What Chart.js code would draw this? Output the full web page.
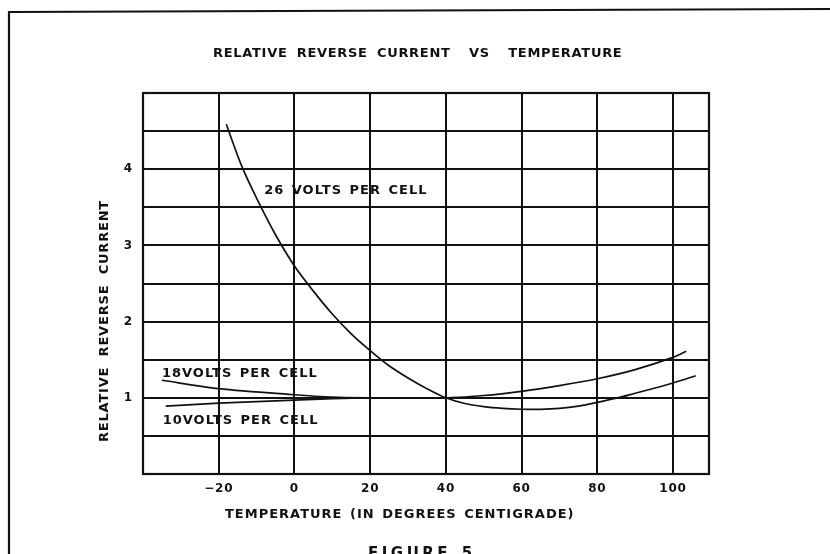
<!DOCTYPE html>
<html>
<head>
<meta charset="utf-8">
<title>Relative Reverse Current vs Temperature</title>
<script src="https://cdn.jsdelivr.net/npm/chart.js@4.4.0/dist/chart.umd.min.js"></script>
<style>
	html, body { margin: 0; padding: 0; background: #fff; }
	canvas { display: block; }
</style>
</head>
<body>
<canvas id="chart" width="830" height="554"></canvas>
<script>
'use strict';

// Relative reverse current against cell temperature (deg C), one pair per curve
var temps26 = [-18, -14, -10, -5, 0, 5, 10, 15, 20, 25, 30, 35, 40, 45, 50, 55, 60, 65, 70, 75, 80, 85, 90, 95, 100, 106];
var current26 = [4.59, 4.05, 3.62, 3.14, 2.73, 2.4, 2.1, 1.84, 1.62, 1.42, 1.26, 1.12, 1.0, 0.925, 0.885, 0.862, 0.85, 0.848, 0.86, 0.89, 0.94, 0.995, 1.06, 1.125, 1.195, 1.29];

var temps18 = [-35, -20, 0, 10, 20, 30, 40, 50, 60, 70, 80, 90, 100, 103.5];
var current18 = [1.23, 1.12, 1.04, 1.01, 1.0, 0.997, 1.0, 1.03, 1.085, 1.16, 1.25, 1.37, 1.53, 1.61];

var temps10 = [-34, -20, 0, 10, 20, 40, 50];
var current10 = [0.89, 0.93, 0.97, 0.99, 1.0, 1.0, 1.0];

// Grid lines and which of them carry a label
var xGrid = [-40, -20, 0, 20, 40, 60, 80, 100];
var xLabels = [-20, 0, 20, 40, 60, 80, 100];
var yGrid = [0, 0.5, 1, 1.5, 2, 2.5, 3, 3.5, 4, 4.5, 5];
var yLabels = [1, 2, 3, 4];

var curveNames = ['26 VOLTS PER CELL', '18VOLTS PER CELL', '10VOLTS PER CELL'];


var INK = '#111',
	LETTERING = '"DejaVu Sans", sans-serif';

function pairs(xs, ys) {
	return xs.map(function (x, i) {
		return { x: x, y: ys[i] };
	});
}

function curve(xs, ys) {
	return {
		data: pairs(xs, ys),
		borderColor: INK,
		borderWidth: 1.7,
		pointRadius: 0,
		fill: false,
		tension: 0.3
	};
}

// Titles, curve captions and the frames round the plot and the page
var lettering = {
	id: 'lettering',
	beforeDraw: function (chart) {
		chart.ctx.letterSpacing = '0.8px';
	},
	afterDraw: function (chart) {
		var ctx = chart.ctx,
			area = chart.chartArea,
			xs = chart.scales.x,
			ys = chart.scales.y,
			// caption anchors, left end of baseline in (deg C, relative current)
			anchors = [[-8, 3.67], [-35, 1.27], [-34.8, 0.65]];

		ctx.save();
		ctx.strokeStyle = INK;
		ctx.lineWidth = 2.2;
		ctx.strokeRect(area.left, area.top, area.right - area.left, area.bottom - area.top);

		ctx.beginPath();
		ctx.moveTo(9, 554);
		ctx.lineTo(9, 12);
		ctx.lineTo(830, 9);
		ctx.stroke();

		ctx.fillStyle = INK;
		ctx.textBaseline = 'alphabetic';
		ctx.textAlign = 'left';
		ctx.font = 'bold 13px ' + LETTERING;
		ctx.letterSpacing = '0.7px';
		ctx.wordSpacing = '4px';
		ctx.fillText('RELATIVE REVERSE CURRENT  VS  TEMPERATURE', 213, 57);

		ctx.letterSpacing = '1px';
		ctx.wordSpacing = '2px';
		ctx.fillText('TEMPERATURE (IN DEGREES CENTIGRADE)', 225, 518);

		curveNames.forEach(function (name, i) {
			ctx.fillText(name, xs.getPixelForValue(anchors[i][0]), ys.getPixelForValue(anchors[i][1]));
		});

		ctx.save();
		ctx.translate(105, 321);
		ctx.rotate(-Math.PI / 2);
		ctx.textAlign = 'center';
		ctx.textBaseline = 'middle';
		ctx.letterSpacing = '0.8px';
		ctx.wordSpacing = '5px';
		ctx.fillText('RELATIVE REVERSE CURRENT', 0, 0);
		ctx.restore();

		ctx.font = 'bold 15px ' + LETTERING;
		ctx.letterSpacing = '3.5px';
		ctx.fillText('FIGURE 5', 368, 558);
		ctx.restore();
	}
};

var tickFont = { family: LETTERING, size: 12, weight: 'bold' };

new Chart(document.getElementById('chart'), {
	type: 'line',
	data: {
		datasets: [
			curve(temps26, current26),
			curve(temps18, current18),
			curve(temps10, current10)
		]
	},
	options: {
		responsive: false,
		animation: false,
		devicePixelRatio: 1,
		layout: {
			padding: { left: 0, top: 93, right: 121, bottom: 0 }
		},
		plugins: {
			legend: { display: false },
			tooltip: { enabled: false },
			title: { display: false }
		},
		scales: {
			x: {
				type: 'linear',
				min: -40,
				max: 109.5,
				afterBuildTicks: function (scale) {
					scale.ticks = xGrid.map(function (v) { return { value: v }; });
				},
				afterFit: function (scale) {
					scale.height = 80;
				},
				grid: { color: INK, lineWidth: 2, drawTicks: false },
				border: { display: false },
				ticks: {
					autoSkip: false,
					maxRotation: 0,
					padding: 8,
					color: INK,
					font: tickFont,
					callback: function (v) {
						if (xLabels.indexOf(v) < 0) {
							return '';
						}
						return v < 0 ? '\u2212' + Math.abs(v) : String(v);
					}
				}
			},
			y: {
				min: 0,
				max: 5,
				afterBuildTicks: function (scale) {
					scale.ticks = yGrid.map(function (v) { return { value: v }; });
				},
				afterFit: function (scale) {
					scale.width = 143;
				},
				grid: { color: INK, lineWidth: 2, drawTicks: false },
				border: { display: false },
				ticks: {
					autoSkip: false,
					padding: 10,
					color: INK,
					font: tickFont,
					callback: function (v) {
						return yLabels.indexOf(v) >= 0 ? String(v) : '';
					}
				}
			}
		}
	},
	plugins: [lettering]
});
</script>
</body>
</html>
